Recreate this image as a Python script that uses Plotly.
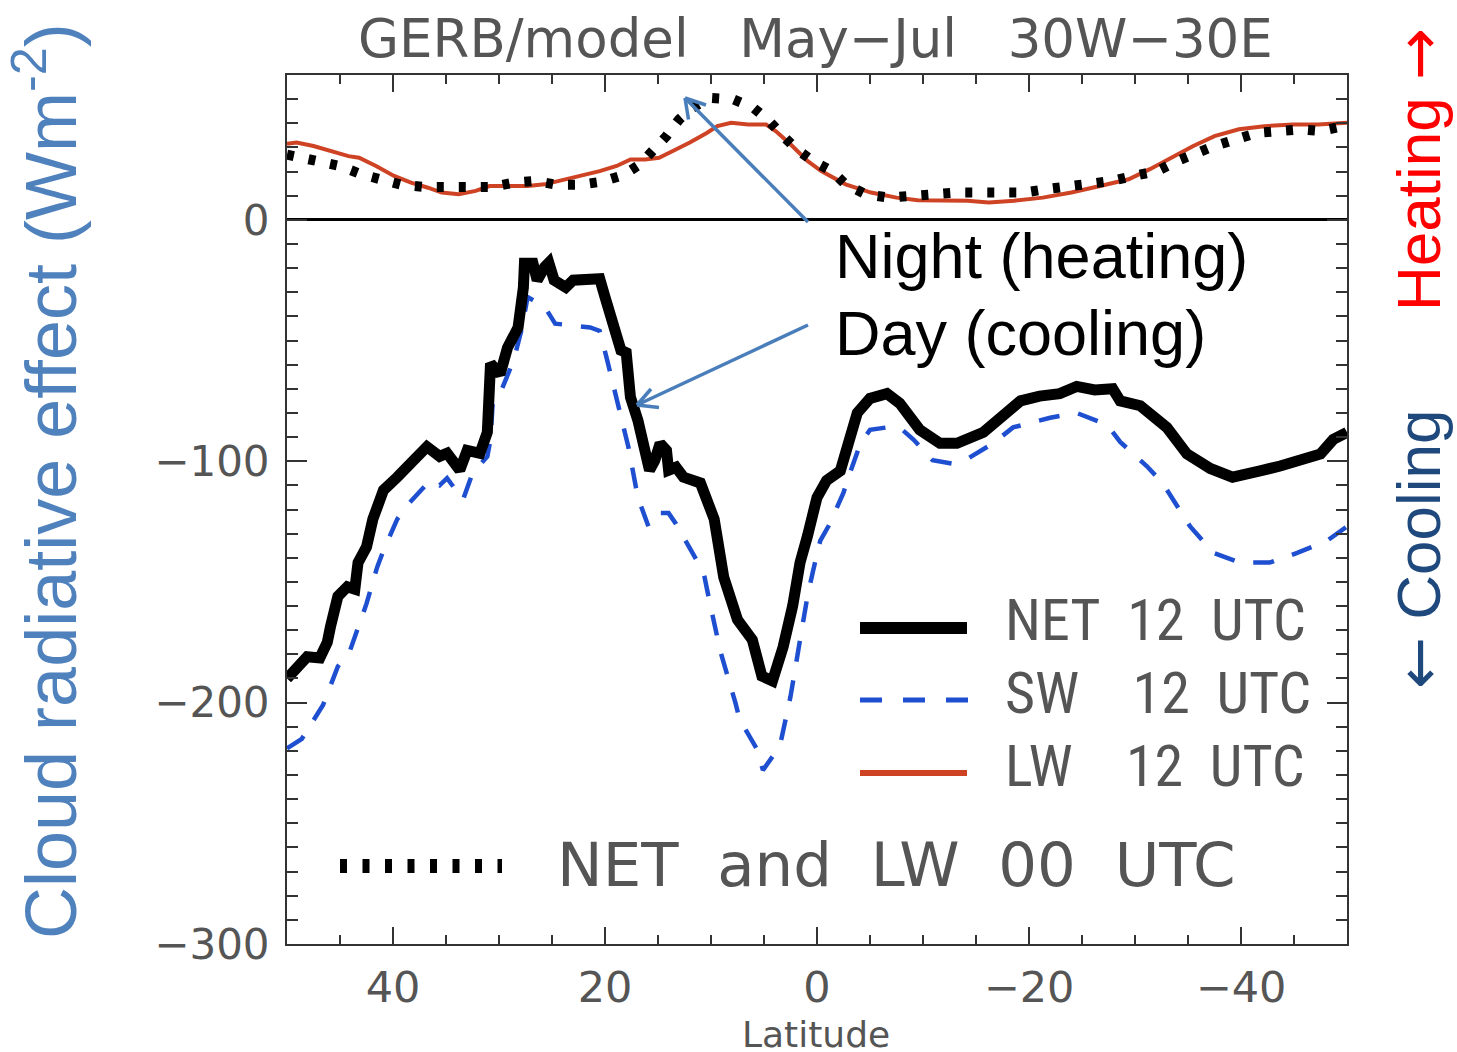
import plotly.graph_objects as go

# ---------------- data ----------------
lat_net12 = [50.0, 49.2, 48.6, 48.1, 46.9, 46.2, 45.9, 45.2, 44.3, 43.6, 43.3, 42.5, 41.9, 40.9,
             39.6, 38.1, 36.8, 35.6, 34.9, 33.7, 33.0, 31.8, 31.1, 30.8, 29.9, 29.2, 28.2, 27.7,
             27.6, 26.8, 26.4, 25.7, 25.3, 24.8, 23.7, 23.0, 21.4, 20.5, 20.0, 19.2, 18.5, 18.0,
             17.6, 16.9, 16.2, 15.8, 15.3, 14.8, 14.2, 14.0, 13.3, 12.6, 11.0, 9.7, 8.8, 7.5,
             6.1, 5.2, 4.2, 3.2, 2.3, 1.6, 0.9, 0.0, -0.9, -2.2, -2.8, -3.8, -5.0, -6.6, -7.8,
             -9.7, -11.6, -13.2, -15.7, -17.3, -19.2, -21.0, -22.9, -24.5, -26.2, -27.9, -28.6,
             -30.5, -33.0, -34.9, -37.1, -39.2, -40.4, -41.8, -43.7, -45.6, -47.5, -48.7, -50.0]
net12 = [-190, -186, -184, -181, -181.5, -175, -168.6, -156, -152, -153, -142, -135.5, -124, -112,
         -106.6, -99.6, -94, -98, -96.7, -103.7, -95.5, -96.7, -88, -59.5, -64, -53, -44.6, -28,
         -18, -18, -25, -19.6, -17.8, -25, -28, -25, -24, -24.4, -32, -46, -54, -55,
         -73.5, -83, -94, -103.7, -99.6, -92.6, -95.5, -103.7, -102.5, -106.6, -109, -124, -148, -165.7,
         -174, -189, -191, -177, -160, -142, -131, -115, -108, -104, -95, -80, -74, -72, -76,
         -87, -92.6, -92.6, -88, -82, -75, -73, -72, -69, -70.5, -70, -75,
         -77, -86, -97, -103, -106.6, -105, -104, -102, -99.6, -97, -91, -88]

lat_sw12 = [50.0, 48.6, 46.6, 45.2, 44.1, 43.1, 42.5, 41.5, 40.9, 39.6, 38.4, 36.5, 35.6, 34.9,
            33.4, 32.5, 31.1, 30.8, 30.6, 29.9, 28.6, 27.9, 27.3, 25.7, 24.7, 21.4, 20.5, 19.8,
            19.2, 18.5, 17.8, 16.9, 15.9, 14.9, 14.0, 13.3, 11.7, 10.7, 10.1, 9.1, 7.7, 7.3,
            5.7, 5.1, 3.5, 2.5, 1.6, 0.9, 0.4, -0.3, -1.2, -2.5, -3.1, -4.1, -5.0, -6.6, -7.8,
            -9.1, -10.9, -12.8, -14.2, -16.6, -18.5, -22.0, -24.5, -27.4, -28.6, -31.1, -32.6,
            -34.0, -35.2, -37.4, -39.9, -42.7, -45.3, -48.1, -50.0]
sw12 = [-219, -215, -201, -185, -179, -166, -159, -144, -137, -124, -117, -108, -110, -107,
        -116, -105, -98, -91, -76, -72, -58, -46, -32, -36, -43, -44.6, -46, -58,
        -69, -83, -94, -115, -127, -121.5, -121.5, -126, -138, -146, -159, -179, -200, -207,
        -219, -228, -218, -197.5, -174, -156, -146, -133, -126, -113, -105, -92.6, -87, -86, -86,
        -91, -99.6, -101, -99, -92.6, -86, -82, -80, -85, -92, -102, -109,
        -119, -127, -138, -142, -142, -138, -133, -127]

lat_lw12 = [50.0, 49.1, 47.5, 45.8, 44.2, 43.2, 41.6, 39.9, 38.3, 36.7, 35.4, 33.8, 32.2, 30.9,
            29.2, 27.3, 25.7, 23.7, 22.1, 20.5, 18.9, 17.6, 16.2, 14.9, 13.6, 12.0, 10.4, 9.4,
            8.1, 6.5, 4.8, 3.9, 2.5, 0.9, -0.4, -2.7, -5.1, -7.5, -9.5, -11.9, -14.2, -16.2,
            -18.6, -21.3, -24.0, -26.7, -29.4, -31.4, -33.4, -35.5, -37.5, -39.8, -42.2, -44.9,
            -47.3, -50.0]
lw12 = [31.5, 32, 30.6, 28.5, 26.4, 25.7, 22.3, 18.2, 15.4, 13.3, 11.3, 10.6, 12, 14,
        14, 14, 14.7, 16.8, 18.2, 20.2, 22.3, 25, 25, 25.7, 28.5, 32, 36, 38.8,
        40.2, 39.5, 39.5, 36.8, 31.3, 24.4, 20.2, 14.7, 11.3, 9.2, 8.1, 8.1, 7.9, 7.2,
        7.9, 9.2, 11.3, 14, 16.8, 21, 25.7, 30.6, 34.7, 37.5, 38.8, 39.5,
        39.5, 40.2]

lat_00 = [50.0, 49.2, 47.1, 45.0, 43.0, 41.0, 39.2, 37.0, 34.9, 32.8, 30.7, 28.6, 26.6, 24.5,
          22.4, 20.3, 18.3, 16.7, 15.3, 14.2, 13.0, 11.9, 10.1, 7.9, 6.0, 4.5, 3.2, 1.9, 0.4,
          -1.4, -2.7, -4.6, -6.8, -9.0, -11.0, -13.2, -15.4, -17.5, -19.6, -21.6, -23.7, -25.7,
          -27.8, -29.9, -32.1, -34.0, -35.7, -37.5, -39.5, -41.5, -43.6, -45.6, -47.5, -49.6]
net_lw00 = [27, 26.4, 24.4, 22.3, 18.9, 16.8, 14.5, 13.6, 13.3, 13.6, 13.6, 15.4, 16.1, 14.5,
            14.5, 15.8, 18.5, 23, 29.2, 34.7, 41.6, 46, 50.5, 49.9, 46.4, 40.9, 34.7, 29.2, 24.4,
            20.2, 14.7, 10.6, 9.2, 9.5, 10.6, 11.3, 11.3, 11.3, 11.3, 12.7, 13.6, 14.7,
            16.1, 18.2, 20.2, 24.4, 27.8, 30.6, 33.3, 36, 36.8, 37.5, 36.8, 38.8]

x_ticks = [40, 20, 0, -20, -40]
y_ticks = [0, -100, -200, -300]

# ---------------- styling ----------------
W, H = 1457, 1052
L, R, T, B = 287, 1347, 75, 944
X_RANGE = [50, -50]
Y_RANGE = [-300, 60]

SW_C = "#1f4fd1"
LW_C = "#cf4325"
AXC = "#333333"
TXT = "#555555"
IDL_FONT = "DejaVu Sans"
NARROW = "Liberation Sans Narrow, Roboto Condensed, DejaVu Sans Condensed, Liberation Sans"
ARIAL = "Liberation Sans, Arial"
ARROW_C = "#4a7ebb"
NB = "\u00a0"
ARW = '<span style="font-family:DejaVu Sans">{}</span>'


def pxp(x):
    return (x - L) / (R - L)


def pyp(y):
    return (B - y) / (B - T)


def lat_of(x):
    return X_RANGE[0] + (x - L) * (X_RANGE[1] - X_RANGE[0]) / (R - L)


def val_of(y):
    return Y_RANGE[1] - (y - T) * (Y_RANGE[1] - Y_RANGE[0]) / (B - T)


fig = go.Figure()
fig.add_trace(go.Scatter(x=lat_sw12, y=sw12, mode="lines",
                         line=dict(color=SW_C, width=4.5, dash="21px,19px"), name="SW 12 UTC"))
fig.add_trace(go.Scatter(x=lat_net12, y=net12, mode="lines",
                         line=dict(color="black", width=11), name="NET 12 UTC"))
fig.add_trace(go.Scatter(x=lat_lw12, y=lw12, mode="lines",
                         line=dict(color=LW_C, width=4), name="LW 12 UTC"))
fig.add_trace(go.Scatter(x=lat_00, y=net_lw00, mode="lines",
                         line=dict(color="black", width=10, dash="7px,15px"), name="NET and LW 00 UTC"))

fig.update_layout(
    width=W, height=H,
    margin=dict(l=L, r=W - R, t=T, b=H - B, pad=0),
    plot_bgcolor="white", paper_bgcolor="white",
    showlegend=False,
)

fig.update_xaxes(
    range=X_RANGE, tickmode="array", tickvals=x_ticks,
    ticks="inside", ticklen=17, tickwidth=2, tickcolor=AXC,
    minor=dict(dtick=5, tick0=0, ticks="inside", ticklen=9, tickwidth=2, tickcolor=AXC),
    showline=True, linecolor=AXC, linewidth=2, mirror="ticks",
    showgrid=False, zeroline=False,
    tickfont=dict(family=IDL_FONT, size=43, color=TXT),
    ticklabelstandoff=4,
)
fig.update_yaxes(
    range=Y_RANGE, tickmode="array", tickvals=y_ticks,
    ticks="inside", ticklen=20, tickwidth=2, tickcolor=AXC,
    minor=dict(dtick=10, tick0=0, ticks="inside", ticklen=11, tickwidth=2, tickcolor=AXC),
    showline=True, linecolor=AXC, linewidth=2, mirror="ticks",
    showgrid=False, zeroline=True, zerolinecolor="black", zerolinewidth=3,
    tickfont=dict(family=IDL_FONT, size=42, color=TXT),
    ticklabelstandoff=7,
)

ann = []
# title and axis label
ann.append(dict(text=f"GERB/model{NB}{NB}{NB}May−Jul{NB}{NB}{NB}30W−30E", x=pxp(815), y=pyp(38),
                font=dict(family=IDL_FONT, size=53, color=TXT)))
ann.append(dict(text="Latitude", x=pxp(816), y=pyp(1034),
                font=dict(family=IDL_FONT, size=36, color=TXT)))
ann.append(dict(text="Cloud radiative effect (Wm<sup>-2</sup>)", x=pxp(45), y=pyp(481), textangle=-90,
                font=dict(family=ARIAL, size=72, color="#4f81bd")))
ann.append(dict(text="Heating " + ARW.format("→"), x=pxp(1418), y=pyp(170), textangle=-90,
                font=dict(family=ARIAL, size=62, color="#ff0000")))
ann.append(dict(text=ARW.format("←") + " Cooling", x=pxp(1418), y=pyp(550), textangle=-90,
                font=dict(family=ARIAL, size=62, color="#1f497d")))
ann.append(dict(text="Night (heating)", x=pxp(833), y=pyp(256), xanchor="left",
                font=dict(family=ARIAL, size=63, color="black")))
ann.append(dict(text="Day (cooling)", x=pxp(833), y=pyp(333), xanchor="left",
                font=dict(family=ARIAL, size=63, color="black")))
# legend texts
ann.append(dict(text=f"NET{NB}{NB}12{NB}{NB}UTC", x=pxp(1003), y=pyp(620), xanchor="left",
                font=dict(family=NARROW, size=58, color=TXT)))
ann.append(dict(text=f"SW{NB}{NB}{NB}{NB}12{NB}{NB}UTC", x=pxp(1003), y=pyp(693), xanchor="left",
                font=dict(family=NARROW, size=58, color=TXT)))
ann.append(dict(text=f"LW{NB}{NB}{NB}{NB}12{NB}{NB}UTC", x=pxp(1003), y=pyp(766), xanchor="left",
                font=dict(family=NARROW, size=58, color=TXT)))
ann.append(dict(text=f"NET{NB}{NB}and{NB}{NB}LW{NB}{NB}00{NB}{NB}UTC", x=pxp(555), y=pyp(864),
                xanchor="left", font=dict(family=IDL_FONT, size=61, color=TXT)))
for a in ann:
    a.setdefault("xref", "paper")
    a.setdefault("yref", "paper")
    a.setdefault("showarrow", False)
    a.setdefault("xanchor", "center")
    a.setdefault("yanchor", "middle")
fig.update_layout(annotations=ann)

shapes = []
# legend samples
shapes.append(dict(type="line", xref="paper", yref="paper", x0=pxp(860), x1=pxp(967), y0=pyp(628), y1=pyp(628),
                   line=dict(color="black", width=12)))
shapes.append(dict(type="line", xref="paper", yref="paper", x0=pxp(860), x1=pxp(968), y0=pyp(700), y1=pyp(700),
                   line=dict(color=SW_C, width=5, dash="22px,21px")))
shapes.append(dict(type="line", xref="paper", yref="paper", x0=pxp(860), x1=pxp(967), y0=pyp(773), y1=pyp(773),
                   line=dict(color=LW_C, width=6)))
shapes.append(dict(type="line", xref="paper", yref="paper", x0=pxp(340), x1=pxp(502), y0=pyp(866), y1=pyp(866),
                   line=dict(color="black", width=14, dash="7px,15.5px")))

# annotation arrows (tail -> tip) with open heads
arrows = [((808, 222), (685, 98), [(3.5, 21.5), (21, 7)]),
          ((808, 325), (637, 405), [(22, 2.5), (14, -16)])]
for (tx, ty), (hx, hy), heads in arrows:
    shapes.append(dict(type="line", xref="x", yref="y", x0=lat_of(tx), y0=val_of(ty),
                       x1=lat_of(hx), y1=val_of(hy), line=dict(color=ARROW_C, width=3.5)))
    for dx, dy in heads:
        shapes.append(dict(type="line", xref="x", yref="y",
                           xsizemode="pixel", ysizemode="pixel",
                           xanchor=lat_of(hx), yanchor=val_of(hy),
                           x0=0, y0=0, x1=dx, y1=-dy,
                           line=dict(color=ARROW_C, width=3.5)))
fig.update_layout(shapes=shapes)

fig.write_html("out.html")
